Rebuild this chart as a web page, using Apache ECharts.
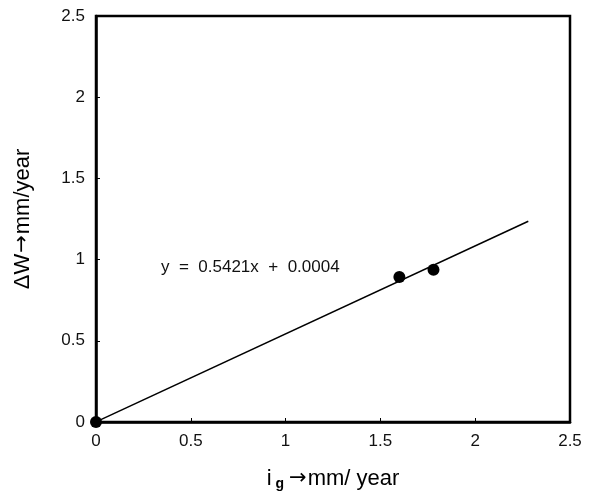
<!DOCTYPE html>
<html>
<head>
<meta charset="utf-8">
<script src="https://cdn.jsdelivr.net/npm/echarts@6/dist/echarts.min.js"></script>
<style>
  html, body { margin: 0; padding: 0; background: #fff; }
  #chart { width: 591px; height: 495px; }
</style>
</head>
<body>
<div id="chart"></div>
<script>
// Measured points: groundwater decline rate vs. change in W
const igValues = [0, 1.6, 1.78];
const dwValues = [0, 0.893, 0.937];

// Linear fit shown on the chart
const fitSlope = 0.5421;
const fitIntercept = 0.0004;
const fitRange = [0, 2.28];

const xTicks = [0, 0.5, 1, 1.5, 2, 2.5];
const yTicks = [0, 0.5, 1, 1.5, 2, 2.5];

const FONT = '"Liberation Sans", Arial, sans-serif';
const ARROW_FONT = '"DejaVu Sans", sans-serif';

const points = igValues.map((x, i) => [x, dwValues[i]]);
const fitLine = fitRange.map(x => [x, fitSlope * x + fitIntercept]);

const chart = echarts.init(document.getElementById('chart'), null, { renderer: 'canvas' });

const commonAxis = {
  type: 'value',
  min: 0,
  max: 2.5,
  interval: 0.5,
  splitLine: { show: false },
  axisLine: { show: true, onZero: false, lineStyle: { color: '#000', width: 2.5 } },
  axisTick: { show: true, inside: true, length: 4, lineStyle: { color: '#000', width: 1 } },
  axisLabel: {
    color: '#111', fontSize: 17, fontFamily: FONT, margin: 11,
    formatter: v => String(v)
  }
};

const titleRich = {
  t: { fontSize: 22, fontFamily: FONT, color: '#000' },
  a: { fontSize: 21, fontFamily: ARROW_FONT, color: '#000', padding: [0, 1, 0, 1] },
  i: { fontSize: 22, fontFamily: FONT, color: '#000', padding: [0, 4, 0, 0] },
  sub: { fontSize: 14, fontFamily: FONT, fontWeight: 'bold', color: '#000', verticalAlign: 'bottom', padding: [10, 4, 0, 0] }
};

chart.setOption({
  animation: false,
  grid: {
    left: 96, right: 21, top: 16, bottom: 73,
    outerBoundsMode: 'none',
    containLabel: false,
    show: true, borderColor: '#000', borderWidth: 2.5, backgroundColor: '#fff'
  },
  xAxis: Object.assign({}, commonAxis, {
    name: '{i|i}{sub|g}{a|→}{t|mm/ year}',
    nameLocation: 'middle',
    nameGap: 45,
    nameTextStyle: { rich: titleRich }
  }),
  yAxis: Object.assign({}, commonAxis, {
    name: '{t|ΔW}{a|→}{t|mm/year}',
    nameLocation: 'middle',
    nameGap: 62,
    nameTextStyle: { rich: titleRich }
  }),
  graphic: [{
    type: 'text',
    left: 161,
    top: 259,
    style: {
      text: 'y  =  0.5421x  +  0.0004',
      fontSize: 17,
      fontFamily: FONT,
      fill: '#111'
    }
  }],
  series: [
    {
      type: 'line',
      data: fitLine,
      symbol: 'none',
      lineStyle: { color: '#000', width: 1.5 },
      z: 2
    },
    {
      type: 'scatter',
      data: points,
      symbol: 'circle',
      symbolSize: 12,
      itemStyle: { color: '#000', opacity: 1 },
      z: 3
    }
  ]
});
</script>
</body>
</html>
